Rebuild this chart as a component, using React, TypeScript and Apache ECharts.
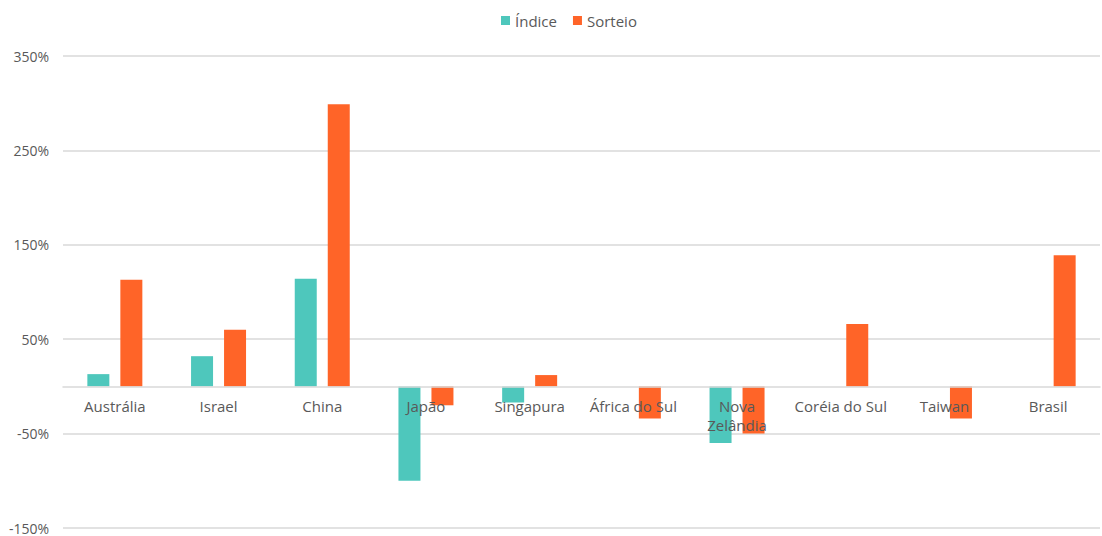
import React, { useEffect, useRef } from "react";
import * as echarts from "echarts";

const categories = ["Austrália", "Israel", "China", "Japão", "Singapura", "África do Sul", "Nova Zelândia", "Coréia do Sul", "Taiwan", "Brasil"];
const indice = [13, 32, 114, -100, -17, 0, -60, 0, 0, 0];
const sorteio = [113, 60, 299, -20, 12, -34, -50, 66, -34, 139];
const yMin = -150;
const yMax = 350;

export default function App() {
  const ref = useRef<HTMLDivElement>(null);
  useEffect(() => {
    const chart = echarts.init(ref.current!, null, { renderer: "svg" });
    const font = "'Open Sans', 'DejaVu Sans', sans-serif";
    const top = 56;
    const bottom = 8;
    const plotH = 536 - top - bottom;
    const zeroOffset = -((0 - yMin) / (yMax - yMin)) * plotH;
    chart.setOption({
      animation: false,
      textStyle: { fontFamily: font },
      legend: {
        top: 8,
        left: 496,
        itemWidth: 9,
        itemHeight: 9,
        itemGap: 16,
        icon: "rect",
        textStyle: { color: "#595959", fontSize: 15, fontFamily: font },
        data: ["Índice", "Sorteio"],
      },
      grid: { left: 63, right: 2, top, bottom, containLabel: false, outerBoundsMode: "none" },
      xAxis: {
        type: "category",
        data: categories,
        position: "bottom",
        offset: zeroOffset,
        z: 5,
        axisLine: { onZero: false, lineStyle: { color: "#d9d9d9", width: 1.5 } },
        axisTick: { show: false },
        axisLabel: {
          color: "#595959",
          fontSize: 15,
          fontFamily: font,
          margin: 10,
          interval: 0,
          lineHeight: 19,
          formatter: (v: string) => (v === "Nova Zelândia" ? "Nova\nZelândia" : v),
        },
      },
      yAxis: {
        type: "value",
        min: yMin,
        max: yMax,
        interval: 100,
        axisLine: { show: false },
        axisTick: { show: false },
        axisLabel: {
          color: "#595959",
          fontSize: 14,
          fontFamily: font,
          margin: 14,
          formatter: (v: number) => v + "%",
        },
        splitLine: { lineStyle: { color: "#d9d9d9", width: 1.5 } },
      },
      series: [
        {
          name: "Índice",
          type: "bar",
          data: indice,
          barWidth: 22,
          barGap: "50%",
          z: 2,
          itemStyle: { color: "#4EC7BC" },
        },
        {
          name: "Sorteio",
          type: "bar",
          data: sorteio,
          barWidth: 22,
          z: 2,
          itemStyle: { color: "#FF6428" },
        },
      ],
    });
    return () => chart.dispose();
  }, []);
  return <div ref={ref} style={{ position: "fixed", left: 0, top: 0, width: 1102, height: 536, background: "#fff" }} />;
}
